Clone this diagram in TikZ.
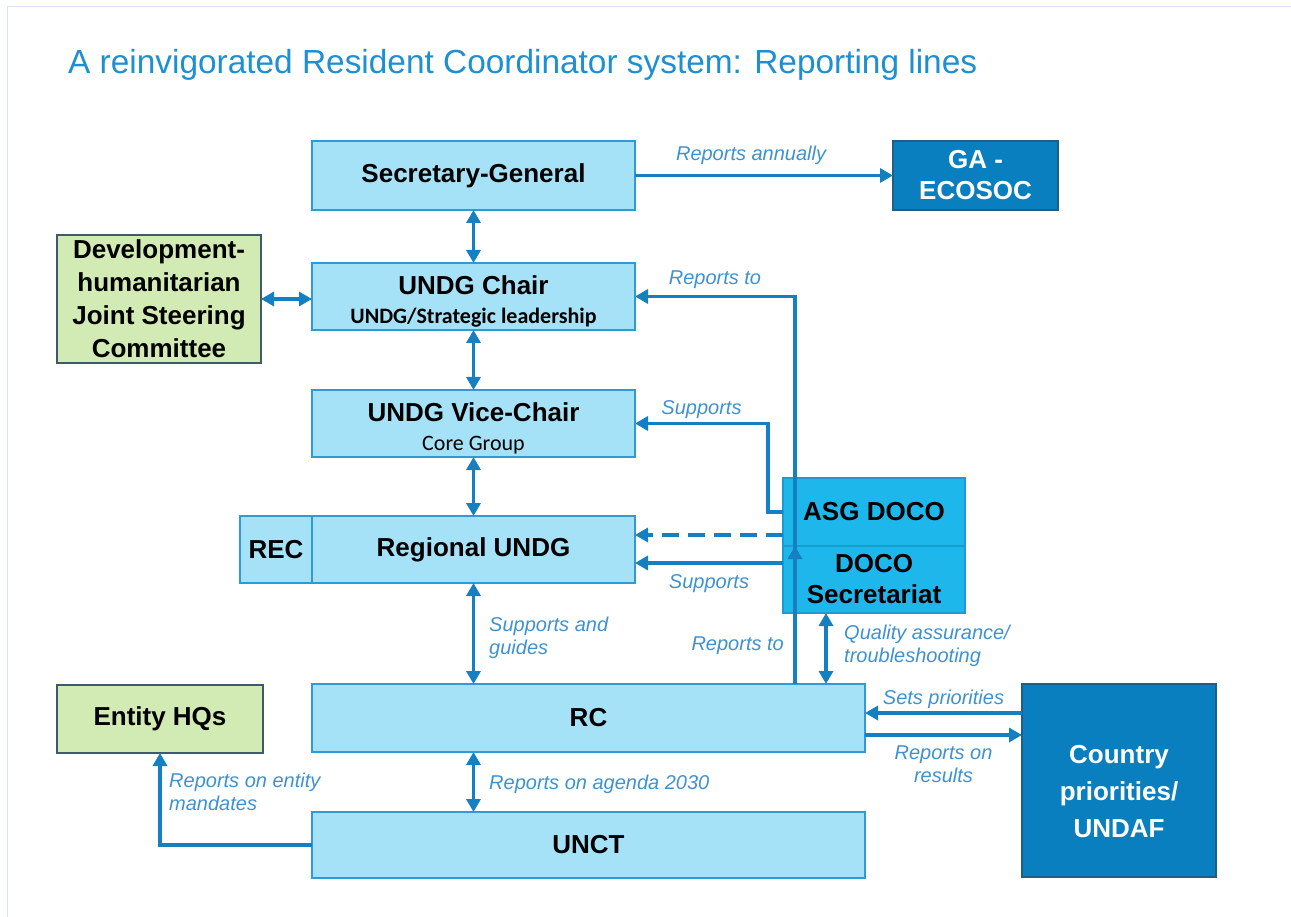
\documentclass[tikz,border=0pt]{standalone}
\usepackage{fontspec}
\setmainfont{Liberation Sans}
\newfontfamily\narrowfont{Carlito}
\usepackage{tikz}
\usetikzlibrary{arrows.meta}
\definecolor{heading}{HTML}{1E8FD0}
\definecolor{framegray}{HTML}{D8E5F4}
\definecolor{tierfill}{HTML}{A6E2F7}
\definecolor{tieredge}{HTML}{2F9AD3}
\definecolor{docofill}{HTML}{1EB7EB}
\definecolor{docoedge}{HTML}{1C9BD1}
\definecolor{extfill}{HTML}{0A7FC0}
\definecolor{extedge}{HTML}{1D5F86}
\definecolor{partnerfill}{HTML}{D2EAB3}
\definecolor{partneredge}{HTML}{3F5A6A}
\definecolor{flowblue}{HTML}{1580C1}
\definecolor{tagblue}{HTML}{3E92CF}
\tikzset{
  box/.style={
    draw, line width=1.3pt, inner sep=0pt, outer sep=0pt, align=center,
    font=\bfseries\fontsize{26}{31}\selectfont
  },
  tier/.style={box, draw=tieredge, fill=tierfill},
  doco/.style={box, draw=docoedge, fill=docofill},
  external/.style={box, draw=extedge, fill=extfill, text=white},
  partner/.style={box, draw=partneredge, fill=partnerfill},
  flow/.style={-{Triangle[length=13pt,width=14pt]}, draw=flowblue, line width=3.6pt},
  twoway/.style={flow, {Triangle[length=13pt,width=14pt]}-{Triangle[length=13pt,width=14pt]}},
  tag/.style={font=\itshape\fontsize{20}{23}\selectfont, text=tagblue, inner sep=1pt, align=left},
  framing/.style={draw=framegray, line width=1.5pt}
}
\newcommand\subline[1]{{\narrowfont\fontsize{22}{24}\selectfont #1}}

\begin{document}
\begin{tikzpicture}[x=1pt,y=-1pt]
  \useasboundingbox (0,0) rectangle (1291,917);
  \draw[framing] (7.5,917) -- (7.5,6.5) -- (1291,6.5);
  \node[anchor=base west, text=heading, font=\fontsize{33.4}{40}\selectfont, inner sep=0pt] (title) at (68,74) {A reinvigorated Resident Coordinator system: Reporting lines};

  % central chain
  \node[tier, minimum width=323pt, minimum height=69pt] (sg) at (473.5,175.5) {Secretary-General};
  \node[tier, minimum width=323pt, minimum height=67pt] (chair) at (473.5,296.5) {\rule{0pt}{28pt}UNDG Chair\\[-2pt]\subline{UNDG/Strategic leadership}};
  \node[tier, minimum width=323pt, minimum height=67pt] (vice) at (473.5,423.5) {\rule{0pt}{28pt}UNDG Vice-Chair\\[-2pt]{\narrowfont\mdseries\fontsize{22}{24}\selectfont Core Group}};
  \node[tier, minimum width=323pt, minimum height=67pt] (regional) at (473.5,549.5) {Regional UNDG};
  \node[tier, minimum width=72pt, minimum height=67pt] (rec) at (276,549.5) {REC};
  \node[tier, minimum width=553pt, minimum height=68pt] (rc) at (588.5,718) {RC};
  \node[tier, minimum width=553pt, minimum height=66pt] (unct) at (588.5,845) {UNCT};

  % outside bodies
  \node[external, minimum width=165pt, minimum height=69pt] (ga) at (975.5,175.5) {GA -\\ECOSOC};
  \node[partner, minimum width=204pt, minimum height=128pt, font=\bfseries\fontsize{26}{33}\selectfont] (jsc) at (159,299) {Development-\\humanitarian\\Joint Steering\\Committee};
  \node[partner, minimum width=206pt, minimum height=68pt] (hqs) at (160,719) {Entity HQs};
  \node[external, minimum width=194pt, minimum height=193pt, font=\bfseries\fontsize{26}{37}\selectfont] (country) at (1119,780.5) {\rule{0pt}{40pt}Country\\priorities/\\UNDAF};

  % DOCO stack
  \node[doco, minimum width=182pt, minimum height=68pt] (asg) at (874,512) {ASG DOCO};
  \node[doco, minimum width=182pt, minimum height=67pt] (docosec) at (874,579.5) {DOCO\\Secretariat};

  % reporting lines
  \draw[flow] (sg) -- node[tag, above=8pt, pos=0.45] {Reports annually} (ga);
  \draw[twoway] (sg) -- (chair);
  \draw[twoway] (jsc.east) -- (jsc.east -| chair.west);
  \draw[twoway] (chair) -- (vice);
  \draw[twoway] (vice) -- (regional);
  \draw[twoway] (regional.south) -- (regional.south |- rc.north);
  \node[tag, anchor=west] (guides) at (488,638) {Supports and\\guides};
  \draw[twoway] (regional.south |- rc.south) -- (regional.south |- unct.north);
  \node[tag, anchor=west] (agenda) at (488,784) {Reports on agenda 2030};
  \draw[flow] (unct.west) -| (hqs.south);
  \node[tag, anchor=west] (mandates) at (168,792) {Reports on entity\\mandates};

  \coordinate (up) at (795,0);
  \draw[flow] (rc.north -| up) |- node[tag, above=5pt, pos=0.75] {Reports to} (chair.east);
  \draw[flow] (rc.north -| up) -- (docosec.north -| up);
  \node[tag, anchor=east] (rcreports) at (785,646) {Reports to};

  \draw[flow] (asg.west) -- ++(-15,0) |- node[tag, above=2pt, pos=0.75] {Supports} (vice.east);
  \coordinate (dash0) at ([yshift=11pt]asg.south west);
  \draw[flow, dash pattern=on 17pt off 9pt] (dash0) -- (dash0 -| regional.east);
  \coordinate (sup0) at ([yshift=-17pt]docosec.north west);
  \draw[flow] (sup0) -- node[tag, below=9pt] {Supports} (sup0 -| regional.east);

  \coordinate (qa) at (826,0);
  \draw[twoway] (docosec.south -| qa) -- (rc.north -| qa);
  \node[tag, anchor=west] (quality) at (843,646) {Quality assurance/\\troubleshooting};

  \draw[flow] ([yshift=-29pt]country.north west) -- node[tag, above=2pt] {Sets priorities} ([yshift=-29pt]rc.north east);
  \draw[flow] ([yshift=-51pt]rc.north east) -- node[tag, below=8pt, align=center] {Reports on\\results} ([yshift=-51pt]country.north west);
\end{tikzpicture}
\end{document}
